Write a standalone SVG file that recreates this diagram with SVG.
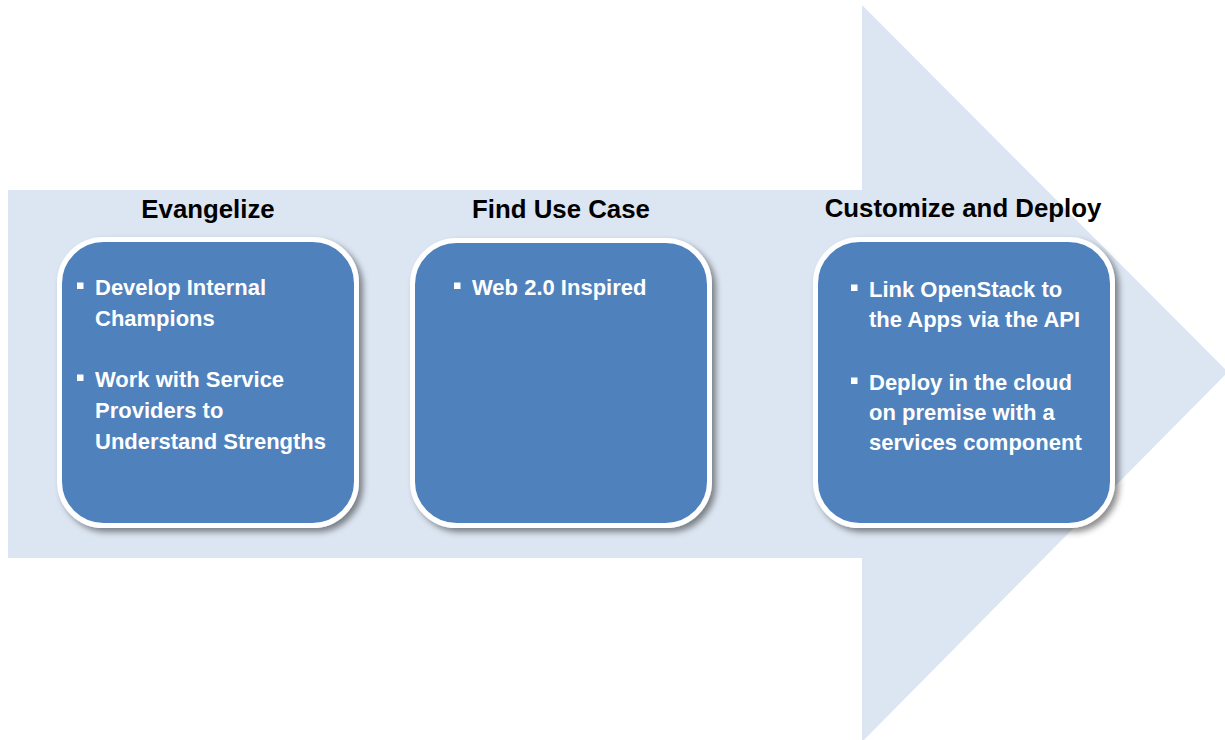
<svg xmlns="http://www.w3.org/2000/svg" width="1225" height="740" viewBox="0 0 1225 740">
<style>
.title{font-family:"Liberation Sans",Arial,sans-serif;font-weight:bold;font-size:25.8px;fill:#000;text-anchor:middle}
.item{font-family:"Liberation Sans",Arial,sans-serif;font-weight:bold;font-size:22px;fill:#fff}
.box{fill:#4f81bd;stroke:#fff;stroke-width:5;filter:url(#sh)}
.bul{fill:#fff}
</style>
<defs>
<filter id="sh" x="-10%" y="-10%" width="125%" height="125%">
<feDropShadow dx="4" dy="4" stdDeviation="3" flood-color="#000" flood-opacity="0.45"/>
</filter>
</defs>
<rect width="1225" height="740" fill="#fff"/>
<polygon id="arrow" points="8,190 862,190 862,5 1228,372 862,742 862,558 8,558" fill="#dce6f2"/>
<g id="connectors"/>
<g id="node-evangelize">
<text class="title" x="208" y="218">Evangelize</text>
<rect class="box" x="59.5" y="239.5" width="297" height="286" rx="44"/>
<rect class="bul" x="77" y="282.5" width="6.5" height="6.5"/>
<text class="item" x="95" y="295">Develop Internal</text>
<text class="item" x="95" y="326">Champions</text>
<rect class="bul" x="77" y="374.5" width="6.5" height="6.5"/>
<text class="item" x="95" y="387">Work with Service</text>
<text class="item" x="95" y="418">Providers to</text>
<text class="item" x="95" y="449">Understand Strengths</text>
</g>
<g id="node-find-use-case">
<text class="title" x="561" y="218">Find Use Case</text>
<rect class="box" x="412.5" y="240.5" width="297" height="285" rx="44"/>
<rect class="bul" x="454" y="282.5" width="6.5" height="6.5"/>
<text class="item" x="472" y="295">Web 2.0 Inspired</text>
</g>
<g id="node-customize">
<text class="title" x="963" y="217">Customize and Deploy</text>
<rect class="box" x="815.5" y="239.5" width="297" height="286" rx="44"/>
<rect class="bul" x="851" y="284.5" width="6.5" height="6.5"/>
<text class="item" x="869" y="297">Link OpenStack to</text>
<text class="item" x="869" y="327">the Apps via the API</text>
<rect class="bul" x="851" y="377.5" width="6.5" height="6.5"/>
<text class="item" x="869" y="390">Deploy in the cloud</text>
<text class="item" x="869" y="420">on premise with a</text>
<text class="item" x="869" y="450">services component</text>
</g>
</svg>
